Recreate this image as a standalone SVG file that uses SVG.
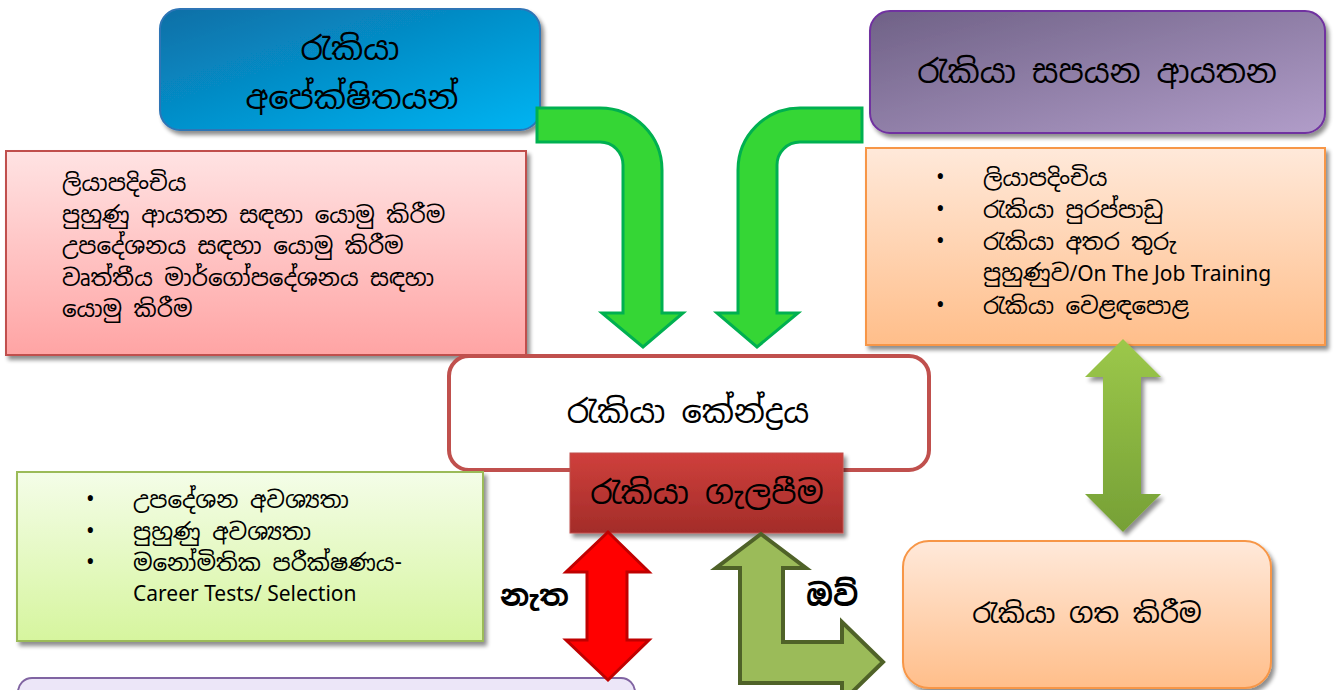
<svg xmlns="http://www.w3.org/2000/svg" width="1335" height="690" viewBox="0 0 1335 690">
<defs>
<linearGradient id="gBlue" x1="0" y1="0" x2="1" y2="1"><stop offset="0" stop-color="#0a6fa6"/><stop offset="1" stop-color="#00b4f2"/></linearGradient>
<linearGradient id="gPurple" x1="0" y1="0" x2="1" y2="1"><stop offset="0" stop-color="#6f6186"/><stop offset="1" stop-color="#b19dc9"/></linearGradient>
<linearGradient id="gPink" x1="0" y1="0" x2="0" y2="1"><stop offset="0" stop-color="#ffe3e3"/><stop offset="1" stop-color="#ffa4a4"/></linearGradient>
<linearGradient id="gOrange" x1="0" y1="0" x2="0" y2="1"><stop offset="0" stop-color="#ffe9da"/><stop offset="1" stop-color="#ffbe8a"/></linearGradient>
<linearGradient id="gLime" x1="0" y1="0" x2="0" y2="1"><stop offset="0" stop-color="#f4fde8"/><stop offset="1" stop-color="#d6f59e"/></linearGradient>
<linearGradient id="gRed" x1="0" y1="0" x2="0" y2="1"><stop offset="0" stop-color="#cf403c"/><stop offset="1" stop-color="#a32c29"/></linearGradient>
<linearGradient id="gOlive" x1="0" y1="0" x2="0" y2="1"><stop offset="0" stop-color="#9cc84a"/><stop offset="1" stop-color="#76a036"/></linearGradient>
<filter id="sh" x="-10%" y="-10%" width="130%" height="130%"><feGaussianBlur in="SourceAlpha" stdDeviation="2"/><feOffset dx="3" dy="4"/><feComponentTransfer><feFuncA type="linear" slope="0.45"/></feComponentTransfer><feMerge><feMergeNode/><feMergeNode in="SourceGraphic"/></feMerge></filter>
</defs>
<style>
text{font-family:"Noto Sans Sinhala","Iskoola Pota","Noto Sans","DejaVu Sans",sans-serif;fill:#000}
.t28{font-size:32px;text-anchor:middle}
.t21{font-size:23px}
.lat{font-family:"Noto Sans","Open Sans","Liberation Sans",sans-serif;font-size:21px}
.b{font-size:30px;font-weight:bold}
.gArrow{fill:#35d635;stroke:#00b050;stroke-width:3}
</style>
<rect width="1335" height="690" fill="#ffffff"/>

<g id="n-seekers">
<rect x="160" y="9" width="380" height="121" rx="20" fill="url(#gBlue)" stroke="#2e75b6" stroke-width="2" filter="url(#sh)"/>
<text class="t28" x="350" y="60">රැකියා</text>
<text class="t28" x="352" y="109">අපේක්ෂිතයන්</text>
</g>

<g id="n-providers">
<rect x="870" y="11" width="455" height="122" rx="20" fill="url(#gPurple)" stroke="#7030a0" stroke-width="2" filter="url(#sh)"/>
<text class="t28" x="1097" y="83">රැකියා සපයන ආයතන</text>
</g>

<g id="n-seeker-services">
<rect x="6" y="151" width="520" height="204" fill="url(#gPink)" stroke="#c0504d" stroke-width="2" filter="url(#sh)"/>
<text class="t21" x="62" y="191">ලියාපදිංචිය</text>
<text class="t21" x="62" y="223">පුහුණු ආයතන සඳහා යොමු කිරීම</text>
<text class="t21" x="62" y="254">උපදේශනය සඳහා යොමු කිරීම</text>
<text class="t21" x="62" y="286">වෘත්තීය මාර්ගෝපදේශනය සඳහා</text>
<text class="t21" x="62" y="317">යොමු කිරීම</text>
</g>

<g id="n-provider-services">
<rect x="866" y="148" width="459" height="197" fill="url(#gOrange)" stroke="#f79646" stroke-width="2" filter="url(#sh)"/>
<g class="t21">
<text x="936" y="185">•</text><text x="983" y="186">ලියාපදිංචිය</text>
<text x="936" y="217">•</text><text x="983" y="218">රැකියා පුරප්පාඩු</text>
<text x="936" y="249">•</text><text x="983" y="250">රැකියා අතර තුරු</text>
<text x="983" y="281">පුහුණුව<tspan class="lat">/On The Job Training</tspan></text>
<text x="936" y="313">•</text><text x="983" y="314">රැකියා වෙළඳපොළ</text>
</g>
</g>

<g id="n-center">
<rect x="449" y="356" width="480" height="114" rx="20" fill="#ffffff" stroke="#c0504d" stroke-width="4"/>
<text class="t28" x="688" y="423">රැකියා කේන්ද්‍රය</text>
</g>

<g id="n-matching">
<rect x="570" y="453" width="273" height="80" fill="url(#gRed)" stroke="#c0504d" stroke-width="1" filter="url(#sh)"/>
<text class="t28" x="707" y="504">රැකියා ගැලපීම</text>
</g>

<g id="n-needs">
<rect x="17" y="472" width="466" height="169" fill="url(#gLime)" stroke="#9bbb59" stroke-width="2" filter="url(#sh)"/>
<g class="t21">
<text x="86" y="507">•</text><text x="133" y="508">උපදේශන අවශ්‍යතා</text>
<text x="86" y="539">•</text><text x="133" y="540">පුහුණු අවශ්‍යතා</text>
<text x="86" y="570">•</text><text x="133" y="571">මනෝමිතික පරීක්ෂණය-</text>
<text class="lat" x="133" y="601">Career Tests/ Selection</text>
</g>
</g>

<g id="n-bottom">
<rect x="18" y="678" width="617" height="60" rx="14" fill="#ece6f8" stroke="#8064a2" stroke-width="2"/>
</g>

<g id="n-placement">
<rect x="903" y="541" width="368" height="147" rx="26" fill="url(#gOrange)" stroke="#f79646" stroke-width="2" filter="url(#sh)"/>
<text class="t28" x="1087" y="623" style="font-size:27px">රැකියා ගත කිරීම</text>
</g>

<g id="connectors">
<path class="gArrow" d="M537,108 H600 A62,62 0 0 1 662,170 V313 H683 L643,347 L602,313 H623 V165 A23,23 0 0 0 600,142 H537 Z"/>
<path class="gArrow" d="M862,108 H800 A62,62 0 0 0 738,170 V313 H717 L757,347 L798,313 H777 V165 A23,23 0 0 1 800,142 H862 Z"/>
<path d="M1123,339 L1161,377 H1141 V494 H1161 L1123,532 L1085,494 H1103 V377 H1085 Z" fill="url(#gOlive)" filter="url(#sh)"/>
<path d="M608,532 L649,572 H627 V640 H649 L608,680 L566,640 H587 V572 H566 Z" fill="#ff0000" stroke="#c00000" stroke-width="3"/>
<path d="M761,534 L806,568 H783 V642 H842 V622 L883,662 L842,702 V683 H740 V568 H716 Z" fill="#9bbb59" stroke="#4f6228" stroke-width="4"/>
</g>

<g id="labels">
<text class="b" x="500" y="606">නැත</text>
<text class="b" x="806" y="606">ඔව්</text>
</g>
</svg>
